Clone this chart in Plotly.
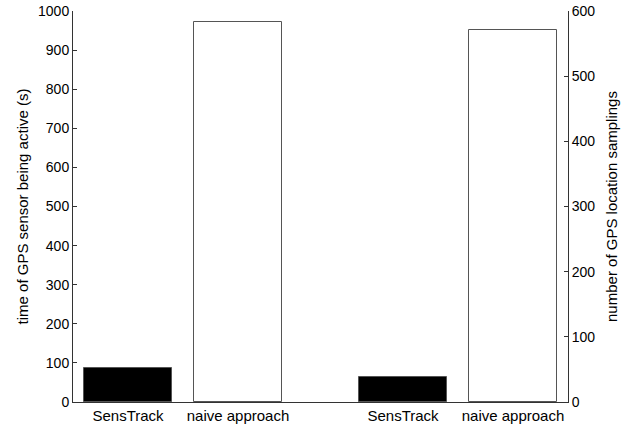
import plotly.graph_objects as go

# Category labels and positions along the shared x axis
labels = ["SensTrack", "naive approach", "SensTrack", "naive approach"]
positions = [1, 2, 3.5, 4.5]

# Left group: time the GPS sensor is active (s)
active_time = [86, 971]
# Right group: number of GPS location samplings
samplings = [38.5, 571]

bar_colors = ["black", "white"]
family = "Liberation Sans, Arial, Helvetica, sans-serif"
tick_font_x = dict(family=family, size=15, color="black")
tick_font_y = dict(family=family, size=14, color="black")
title_font = dict(family=family, size=15, color="black")

fig = go.Figure()
fig.add_trace(go.Bar(
    x=positions[:2], y=active_time, width=0.8,
    marker=dict(color=bar_colors, line=dict(color="#555555", width=1)),
    yaxis="y", showlegend=False,
))
fig.add_trace(go.Bar(
    x=positions[2:], y=samplings, width=0.8,
    marker=dict(color=bar_colors, line=dict(color="#555555", width=1)),
    yaxis="y2", showlegend=False,
))

fig.update_layout(
    width=634, height=430,
    margin=dict(l=73, r=66, t=11, b=28),
    plot_bgcolor="white", paper_bgcolor="white",
    font=tick_font_y,
    xaxis=dict(
        range=[0.5, 5.0], tickvals=positions, ticktext=labels,
        showgrid=False, zeroline=False, showline=True, linecolor="#333333",
        linewidth=1, ticks="", tickfont=tick_font_x, automargin=False,
    ),
    yaxis=dict(
        range=[0, 1000], dtick=100, showgrid=False, zeroline=False,
        showline=True, linecolor="#333333", linewidth=1,
        ticks="inside", ticklen=4, tickcolor="#333333",
        title=dict(text="time of GPS sensor being active (s)", font=title_font, standoff=5),
        tickfont=tick_font_y, automargin=False,
    ),
    yaxis2=dict(
        range=[0, 600], dtick=100, overlaying="y", side="right",
        showgrid=False, zeroline=False,
        showline=True, linecolor="#333333", linewidth=1,
        ticks="inside", ticklen=4, tickcolor="#333333",
        title=dict(text="number of GPS location samplings", font=title_font, standoff=12),
        tickfont=tick_font_y, automargin=False,
    ),
    bargap=0,
)

fig.write_html("out.html")
